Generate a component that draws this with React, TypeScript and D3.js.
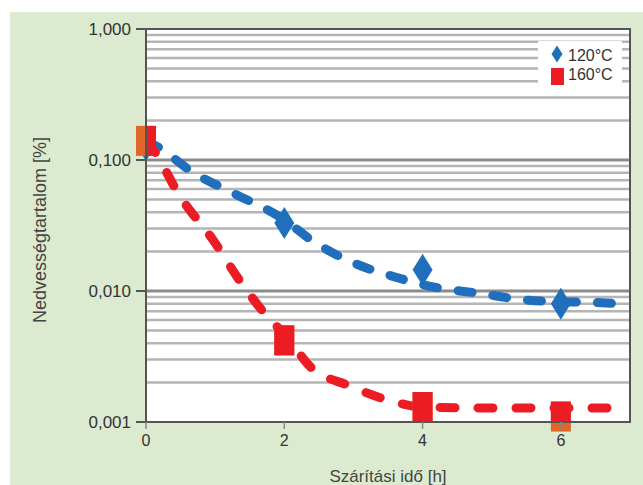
import React from 'react';
import * as d3 from 'd3';

// measured points
const hours = [0, 2, 4, 6];
const values120 = [0.13, 0.033, 0.0145, 0.008];
const values160 = [0.14, 0.0042, 0.0013, 0.0011];

// trend lines
const trend120 = [
  [0, 0.14], [0.17, 0.126], [0.67, 0.081], [1.26, 0.056], [2, 0.035], [2.39, 0.0245],
  [2.98, 0.0166], [3.6, 0.0128], [4.17, 0.0107], [4.82, 0.0096], [5.53, 0.0085],
  [6.65, 0.0081], [7, 0.0079],
];
const trend160 = [
  [0, 0.14], [0.08, 0.125], [0.5, 0.052], [0.97, 0.0245], [1.38, 0.0115], [1.8, 0.006],
  [2, 0.0047], [2.39, 0.0026], [2.93, 0.0019], [3.5, 0.00147], [4, 0.0013],
  [5, 0.00128], [7, 0.00128],
];

const yTicks = [1, 0.1, 0.01, 0.001];
const yTickLabels = ['1,000', '0,100', '0,010', '0,001'];
const xTicks = [0, 2, 4, 6];
const legendLabels = ['120°C', '160°C'];

const W = 643;
const H = 485;
const m = { left: 146, right: 630, top: 29, bottom: 422 };

const BLUE = '#1f6fbd';
const RED = '#ec1c24';
const ORANGE = '#e0662a';
const FONT = 'Liberation Sans, Arial, sans-serif';

export default function App() {
  const x = d3.scaleLinear().domain([0, 7]).range([m.left, m.right]);
  const y = d3.scaleLog().domain([0.001, 1]).range([m.bottom, m.top]);

  const minor: number[] = [];
  [0.001, 0.01, 0.1].forEach(d => {
    for (let k = 2; k <= 9; k++) minor.push(d * k);
  });

  const line = d3.line<number[]>()
    .x(d => x(d[0]))
    .y(d => y(d[1]))
    .curve(d3.curveMonotoneX);

  const diamond = (cx: number, cy: number, w: number, h: number) =>
    `M${cx},${cy - h / 2}L${cx + w / 2},${cy}L${cx},${cy + h / 2}L${cx - w / 2},${cy}Z`;

  const squares = (fill: string) =>
    hours.map((h, i) => (
      <rect key={i} x={x(h) - 10} y={y(values160[i]) - 15} width={20} height={30} fill={fill} />
    ));

  return (
    <svg width={W} height={H} style={{ position: 'absolute', left: 0, top: 0 }} fontFamily={FONT}>
      <defs>
        <clipPath id="plot">
          <rect x={m.left} y={m.top} width={m.right - m.left} height={m.bottom - m.top} />
        </clipPath>
      </defs>
      <rect width={W} height={H} fill="#fff" />
      <rect x={10} y={12} width={W - 10} height={H - 12} fill="#dcebd0" />
      <rect x={m.left} y={m.top} width={m.right - m.left} height={m.bottom - m.top} fill="#fff" />

      {/* grid */}
      {minor.map((v, i) => (
        <line key={i} x1={m.left} x2={m.right} y1={y(v)} y2={y(v)} stroke="#b5b5b5" strokeWidth={2.5} />
      ))}
      {[0.1, 0.01].map(v => (
        <line key={v} x1={m.left} x2={m.right} y1={y(v)} y2={y(v)} stroke="#8c8c8c" strokeWidth={3} />
      ))}

      {/* legend box */}
      <rect x={538} y={41} width={84} height={47} fill="#fff" />
      <path d={diamond(557, 54, 11, 17)} fill={BLUE} />
      <rect x={551} y={68} width={13} height={17} fill={RED} />
      <text x={568} y={61} fontSize={16} fill="#333">{legendLabels[0]}</text>
      <text x={568} y={80} fontSize={16} fill="#333">{legendLabels[1]}</text>

      {/* trend lines */}
      <g clipPath="url(#plot)">
        <path d={line(trend120) || ''} fill="none" stroke={BLUE} strokeWidth={9}
          strokeDasharray="14 21" strokeLinecap="round" />
        <path d={line(trend160) || ''} fill="none" stroke={RED} strokeWidth={9}
          strokeDasharray="15 23" strokeLinecap="round" />
      </g>

      {/* markers: diamonds below, squares on top; square parts outside plot show orange */}
      {hours.map((h, i) => (
        <path key={i} d={diamond(x(h), y(values120[i]), 20, 32)} fill={BLUE} />
      ))}
      {squares(ORANGE)}
      <g clipPath="url(#plot)">{squares(RED)}</g>

      {/* frame */}
      <rect x={m.left} y={m.top} width={m.right - m.left} height={m.bottom - m.top}
        fill="none" stroke="#555" strokeWidth={2} />

      {/* y axis */}
      {yTicks.map((v, i) => (
        <g key={v}>
          <line x1={m.left - 10} x2={m.left} y1={y(v)} y2={y(v)} stroke="#555" strokeWidth={2} />
          <text x={131} y={y(v)} dy="0.35em" textAnchor="end" fontSize={17} fill="#333">
            {yTickLabels[i]}
          </text>
        </g>
      ))}
      {/* x axis */}
      {xTicks.map(v => (
        <g key={v}>
          <line x1={x(v)} x2={x(v)} y1={m.bottom} y2={m.bottom + 7} stroke="#888" strokeWidth={1.5} />
          <text x={x(v)} y={446} textAnchor="middle" fontSize={16} fill="#333">{v}</text>
        </g>
      ))}

      <text x={(m.left + m.right) / 2} y={482} textAnchor="middle" fontSize={17} fill="#444">
        Szárítási idő [h]
      </text>
      <text transform={`translate(46,230) rotate(-90)`} textAnchor="middle" fontSize={18} fill="#444">
        Nedvességtartalom [%]
      </text>
    </svg>
  );
}
